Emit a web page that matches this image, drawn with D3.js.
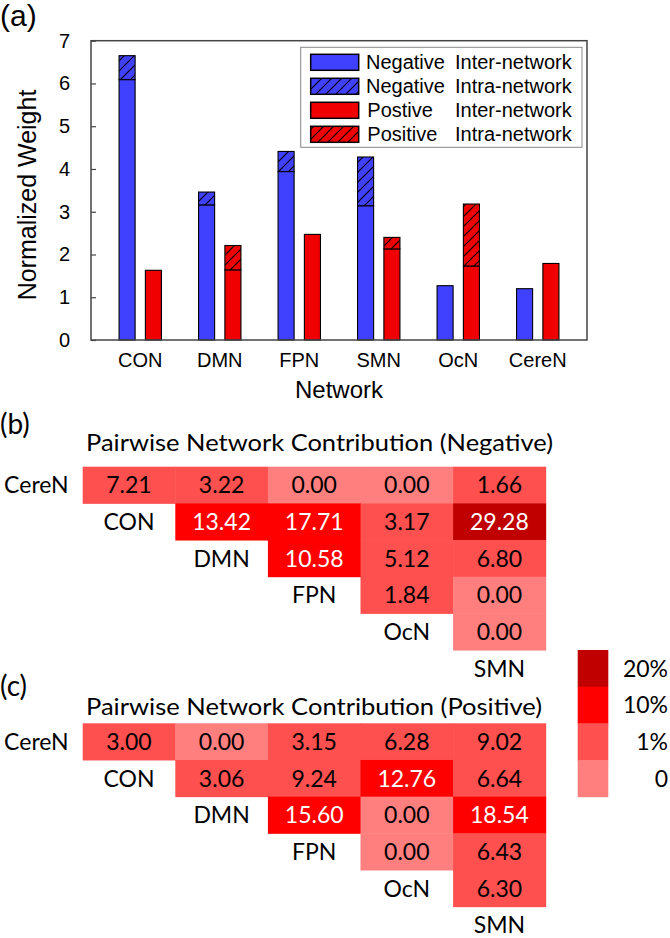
<!DOCTYPE html>
<html>
<head>
<meta charset="utf-8">
<script src="https://cdn.jsdelivr.net/npm/d3@7"></script>
<style>
  html, body { margin: 0; padding: 0; background: #fff; }
  svg { display: block; }
</style>
</head>
<body>
<script>
// ---------- Data ----------
const networks = ["CON", "DMN", "FPN", "SMN", "OcN", "CereN"];
const negInter = [6.09, 3.16, 3.94, 3.14, 1.27, 1.20];
const negIntra = [0.56, 0.30, 0.47, 1.14, 0.00, 0.00];
const posInter = [1.63, 1.64, 2.47, 2.13, 1.73, 1.79];
const posIntra = [0.00, 0.57, 0.00, 0.27, 1.45, 0.00];
const yTicks = [0, 1, 2, 3, 4, 5, 6, 7];
const legendFirst = ["Negative", "Negative", "Postive", "Positive"];
const legendSecond = ["Inter-network", "Intra-network", "Inter-network", "Intra-network"];

const hmNetworks = ["CereN", "CON", "DMN", "FPN", "OcN", "SMN"];
const negPairs = [
  [7.21, 3.22, 0.00, 0.00, 1.66],
  [13.42, 17.71, 3.17, 29.28],
  [10.58, 5.12, 6.80],
  [1.84, 0.00],
  [0.00]
];
const posPairs = [
  [3.00, 0.00, 3.15, 6.28, 9.02],
  [3.06, 9.24, 12.76, 6.64],
  [15.60, 0.00, 18.54],
  [0.00, 6.43],
  [6.30]
];
const binLabels = ["20%", "10%", "1%", "0"];
const binThresholds = [1, 10, 20];
const binColors = ["#ff7f7f", "#ff5050", "#ff0000", "#c00000"]; // low -> high

// ---------- Setup ----------
const W = 670, H = 938;
const svg = d3.select("body").append("svg").attr("width", W).attr("height", H);
const ARIAL = "'Liberation Sans', Arial, Helvetica, sans-serif";
const CAL = "Lato, Carlito, Calibri, sans-serif";
const BLUE = "#4040ff", RED = "#f00000";

const defs = svg.append("defs");
function hatch(id, color) {
  const p = defs.append("pattern").attr("id", id)
    .attr("patternUnits", "userSpaceOnUse").attr("width", 10).attr("height", 10);
  p.append("rect").attr("width", 10).attr("height", 10).attr("fill", color);
  p.append("path").attr("d", "M-1,1 l2,-2 M0,10 l10,-10 M9,11 l2,-2")
    .attr("stroke", "#000").attr("stroke-width", 1.1);
}
hatch("hatchBlue", BLUE);
hatch("hatchRed", RED);

// ---------- (a) Bar chart ----------
const px0 = 91, px1 = 587, py0 = 40.7, py1 = 340;
const x = d3.scaleBand().domain(networks).range([px0, px1]).paddingInner(0.467).paddingOuter(0.353);
const xs = d3.scaleBand().domain(["neg", "pos"]).range([0, x.bandwidth()]).paddingInner(0.39);
const y = d3.scaleLinear().domain([0, 7]).range([py1, py0]);

svg.append("text").attr("x", 0).attr("y", 26).attr("font-family", ARIAL).attr("font-size", 30).text("(a)");

const rows = networks.map((n, i) => ({ n, negInter: negInter[i], negIntra: negIntra[i], posInter: posInter[i], posIntra: posIntra[i] }));
const segs = [];
rows.forEach(d => {
  segs.push({ n: d.n, s: "neg", y0: 0, y1: d.negInter, fill: BLUE });
  if (d.negIntra > 0) segs.push({ n: d.n, s: "neg", y0: d.negInter, y1: d.negInter + d.negIntra, fill: "url(#hatchBlue)" });
  segs.push({ n: d.n, s: "pos", y0: 0, y1: d.posInter, fill: RED });
  if (d.posIntra > 0) segs.push({ n: d.n, s: "pos", y0: d.posInter, y1: d.posInter + d.posIntra, fill: "url(#hatchRed)" });
});
svg.append("g").selectAll("rect").data(segs).join("rect")
  .attr("x", d => x(d.n) + xs(d.s))
  .attr("width", xs.bandwidth())
  .attr("y", d => y(d.y1))
  .attr("height", d => y(d.y0) - y(d.y1))
  .attr("fill", d => d.fill)
  .attr("stroke", "#000").attr("stroke-width", 1.1);

// frame
svg.append("rect").attr("x", px0).attr("y", py0).attr("width", px1 - px0).attr("height", py1 - py0)
  .attr("fill", "none").attr("stroke", "#444").attr("stroke-width", 1.5);

// y axis
const yAxis = svg.append("g").attr("transform", `translate(${px0},0)`)
  .call(d3.axisLeft(y).tickValues(yTicks).tickSize(-5).tickPadding(21).tickFormat(d3.format("d")));
yAxis.select(".domain").remove();
yAxis.selectAll("line").attr("stroke", "#444").attr("stroke-width", 1.2);
yAxis.selectAll("text").attr("font-family", ARIAL).attr("font-size", 20).attr("fill", "#000");

// x labels
svg.append("g").selectAll("text").data(networks).join("text")
  .attr("x", d => x(d) + x.bandwidth() / 2).attr("y", 367.3)
  .attr("text-anchor", "middle").attr("font-family", ARIAL).attr("font-size", 20).text(d => d);
svg.append("text").attr("x", (px0 + px1) / 2).attr("y", 398.3).attr("text-anchor", "middle")
  .attr("font-family", ARIAL).attr("font-size", 24).text("Network");
svg.append("text").attr("transform", `translate(36,195) rotate(-90)`).attr("text-anchor", "middle")
  .attr("font-family", ARIAL).attr("font-size", 25).text("Normalized Weight");

// legend
const lg = svg.append("g");
lg.append("rect").attr("x", 300.7).attr("y", 47.3).attr("width", 281.3).attr("height", 100)
  .attr("fill", "#fff").attr("stroke", "#888").attr("stroke-width", 1);
const lgFills = [BLUE, "url(#hatchBlue)", RED, "url(#hatchRed)"];
const lgY = d3.scaleBand().domain(d3.range(4)).range([54.3 - 4, 54.3 - 4 + 96]);
const lgItems = lg.selectAll("g").data(d3.range(4)).join("g");
lgItems.append("rect").attr("x", 310.7).attr("y", i => lgY(i) + 4).attr("width", 48).attr("height", 16)
  .attr("fill", i => lgFills[i]).attr("stroke", "#000").attr("stroke-width", 1.5);
lgItems.append("text").attr("x", i => i < 2 ? 366 : 367.3).attr("y", i => lgY(i) + 18.7)
  .attr("font-family", ARIAL).attr("font-size", 20).text(i => legendFirst[i]);
lgItems.append("text").attr("x", 455).attr("y", i => lgY(i) + 18.7)
  .attr("font-family", ARIAL).attr("font-size", 20).text(i => legendSecond[i]);

// ---------- Heatmaps ----------
const color = d3.scaleThreshold().domain(binThresholds).range(binColors);
const hx = d3.scaleBand().domain(hmNetworks).range([82.7 - 92.6, 545.7]);

function heatmap(pairs, top, titleY, titleLen, label, labelY, title) {
  const hy = d3.scaleBand().domain(hmNetworks).range([top, top + 6 * 36.67]);
  const g = svg.append("g");
  g.append("text").attr("x", 0).attr("y", labelY).attr("font-family", CAL).attr("font-size", 28).text(label);
  g.append("text").attr("x", 86).attr("y", titleY).attr("font-family", CAL).attr("font-size", 23)
    .attr("textLength", titleLen).attr("lengthAdjust", "spacingAndGlyphs").text(title);
  const cells = [];
  pairs.forEach((row, i) => row.forEach((v, k) => cells.push({ r: hmNetworks[i], c: hmNetworks[i + 1 + k], v })));
  g.selectAll("rect.cell").data(cells).join("rect").attr("class", "cell")
    .attr("x", d => hx(d.c)).attr("y", d => hy(d.r))
    .attr("width", hx.bandwidth() + 0.5).attr("height", hy.bandwidth() + 0.5)
    .attr("fill", d => color(d.v));
  g.selectAll("text.val").data(cells).join("text").attr("class", "val")
    .attr("x", d => hx(d.c) + hx.bandwidth() / 2).attr("y", d => hy(d.r) + hy.bandwidth() / 2)
    .attr("dy", "0.36em").attr("text-anchor", "middle")
    .attr("font-family", CAL).attr("font-size", 23)
    .attr("fill", d => d.v >= 10 ? "#fff" : "#000")
    .text(d => d3.format(".2f")(d.v));
  g.selectAll("text.lab").data(hmNetworks).join("text").attr("class", "lab")
    .attr("x", d => hx(d) + hx.bandwidth() / 2).attr("y", d => hy(d) + hy.bandwidth() / 2)
    .attr("dy", "0.36em").attr("text-anchor", "middle")
    .attr("font-family", CAL).attr("font-size", 23).text(d => d);
}
heatmap(negPairs, 466.7, 450.7, 467, "(b)", 434, "Pairwise Network Contribution (Negative)");
heatmap(posPairs, 723.3, 715, 456, "(c)", 696, "Pairwise Network Contribution (Positive)");

// colour legend
const ly = d3.scaleBand().domain(binLabels).range([650, 796.7]);
const legendColors = binColors.slice().reverse();
const cl = svg.append("g");
cl.selectAll("rect").data(binLabels).join("rect")
  .attr("x", 577.7).attr("y", d => ly(d)).attr("width", 30.6).attr("height", ly.bandwidth() + 0.5)
  .attr("fill", (d, i) => legendColors[i]);
cl.selectAll("text").data(binLabels).join("text")
  .attr("x", 668).attr("y", d => ly(d) + ly.bandwidth() / 2).attr("dy", "0.36em")
  .attr("text-anchor", "end").attr("font-family", CAL).attr("font-size", 23).text(d => d);
</script>
</body>
</html>
